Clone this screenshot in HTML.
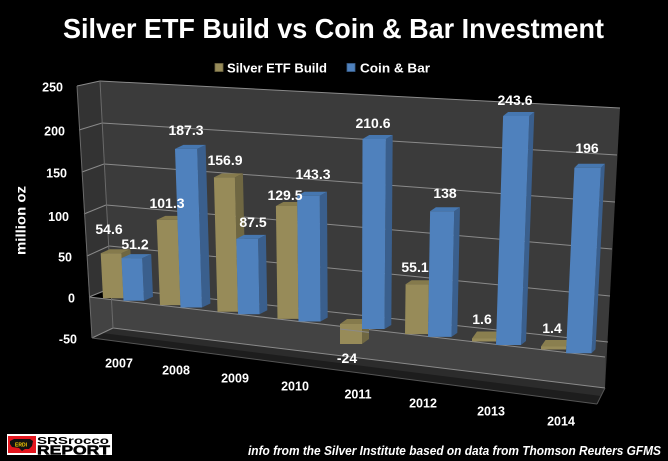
<!DOCTYPE html>
<html>
<head>
<meta charset="utf-8">
<style>
html,body{margin:0;padding:0;background:#000;}
svg{display:block;}
text{font-family:"Liberation Sans",Arial,sans-serif;fill:#fff;}
</style>
</head>
<body>
<svg width="668" height="461" viewBox="0 0 668 461" xmlns="http://www.w3.org/2000/svg">
<rect x="0" y="0" width="668" height="461" fill="#000"/>

<!-- Title -->
<text x="333.5" y="38" text-anchor="middle" font-size="28" font-weight="bold" textLength="541" lengthAdjust="spacingAndGlyphs">Silver ETF Build vs Coin &amp; Bar Investment</text>

<!-- Legend -->
<rect x="215" y="63.5" width="8" height="8" fill="#978b59" stroke="#6f6742" stroke-width="0.8"/>
<text x="227" y="72.5" font-size="13" font-weight="bold" textLength="100" lengthAdjust="spacingAndGlyphs">Silver ETF Build</text>
<rect x="347" y="63.5" width="8" height="8" fill="#4f81bd" stroke="#3a5f8d" stroke-width="0.8"/>
<text x="360" y="72.5" font-size="13" font-weight="bold" textLength="70" lengthAdjust="spacingAndGlyphs">Coin &amp; Bar</text>

<!-- Walls -->
<polygon points="100,81 620,108 605,388 113,328" fill="#3b3b3b"/>
<polygon points="77,86 100,81 112,289 89,297" fill="#333333"/>
<polygon points="89,297 605,357 605,388 113,328 92,338" fill="#434343"/>
<!-- floor -->
<polygon points="113,328 605,388 597,404 92,338" fill="#1d1d1d"/>
<polygon points="113,328 605,388 601,396 102,333" fill="#2c2c2c"/>

<!-- Gridlines -->
<g stroke="#8a8a8a" stroke-width="1" fill="none">
<line x1="77" y1="86" x2="100" y2="81"/>
<line x1="79" y1="130" x2="102" y2="123"/>
<line x1="82" y1="172" x2="104" y2="164"/>
<line x1="84" y1="214" x2="106" y2="205"/>
<line x1="87" y1="256" x2="109" y2="246"/>
<line x1="89" y1="297" x2="111" y2="288"/>
<line x1="92" y1="338" x2="113" y2="328"/>
<line x1="100" y1="81" x2="620" y2="108"/>
<line x1="102" y1="123" x2="617" y2="155"/>
<line x1="104" y1="164" x2="615" y2="202"/>
<line x1="106" y1="205" x2="612" y2="249"/>
<line x1="109" y1="246" x2="610" y2="296"/>
<line x1="111" y1="288" x2="608" y2="342"/>
<line x1="113" y1="328" x2="605" y2="388"/>
<line x1="89" y1="297" x2="605" y2="357"/>
<line x1="77" y1="86" x2="92" y2="338" stroke="#6a6a6a"/>
<line x1="100" y1="81" x2="113" y2="328" stroke="#6a6a6a"/>
<line x1="92" y1="338" x2="597" y2="404" stroke="#555"/>
<line x1="605" y1="388" x2="597" y2="404" stroke="#555"/>
</g>

<!-- Bars -->
<g>
<!-- 2007 -->
<polygon points="121.4,253.2 130.4,249.2 132.5,294.3 123.5,298.3" fill="#6f6742"/>
<polygon points="100.7,253.2 121.4,253.2 130.4,249.2 109.7,249.2" fill="#857a4c"/>
<polygon points="100.7,253.2 121.4,253.2 123.5,298.3 103,298.3" fill="#978b59"/>
<polygon points="142.2,258.1 151.2,254.1 153,296.7 144,300.7" fill="#3a5f8d"/>
<polygon points="121.5,258.1 142.2,258.1 151.2,254.1 130.5,254.1" fill="#4677b0"/>
<polygon points="121.5,258.1 142.2,258.1 144,300.7 123.5,300.7" fill="#4f81bd"/>
<!-- 2008 -->
<polygon points="177.6,219.9 186.2,215.9 189.1,301.1 180.5,305.1" fill="#6f6742"/>
<polygon points="156.7,219.9 177.6,219.9 186.2,215.9 165.3,215.9" fill="#857a4c"/>
<polygon points="156.7,219.9 177.6,219.9 180.5,305.1 160,305.1" fill="#978b59"/>
<polygon points="197.2,148.9 205.6,144.9 210.4,303.5 202,307.5" fill="#3a5f8d"/>
<polygon points="175,148.9 197.2,148.9 205.6,144.9 183.4,144.9" fill="#4677b0"/>
<polygon points="175,148.9 197.2,148.9 202,307.5 180.5,307.5" fill="#4f81bd"/>
<!-- 2009 -->
<polygon points="234.9,177.4 242.9,173.4 246,307.8 238,311.8" fill="#6f6742"/>
<polygon points="213.9,177.4 234.9,177.4 242.9,173.4 221.9,173.4" fill="#857a4c"/>
<polygon points="213.9,177.4 234.9,177.4 238,311.8 217.5,311.8" fill="#978b59"/>
<polygon points="258.1,238.9 265.9,234.9 267.3,310.3 259.5,314.3" fill="#3a5f8d"/>
<polygon points="236.3,238.9 258.1,238.9 265.9,234.9 244.1,234.9" fill="#4677b0"/>
<polygon points="236.3,238.9 258.1,238.9 259.5,314.3 238,314.3" fill="#4f81bd"/>
<!-- 2010 -->
<polygon points="297.3,206 304.7,202 305.9,314.9 298.5,318.9" fill="#6f6742"/>
<polygon points="275.9,206 297.3,206 304.7,202 283.3,202" fill="#857a4c"/>
<polygon points="275.9,206 297.3,206 298.5,318.9 277.5,318.9" fill="#978b59"/>
<polygon points="319.8,195.8 327,191.8 327.7,317.5 320.5,321.5" fill="#3a5f8d"/>
<polygon points="297.2,195.8 319.8,195.8 327,191.8 304.4,191.8" fill="#4677b0"/>
<polygon points="297.2,195.8 319.8,195.8 320.5,321.5 298.5,321.5" fill="#4f81bd"/>
<!-- 2011 -->
<polygon points="362,324 369,319 369,339 362,344" fill="#6f6742"/>
<polygon points="340,324 362,324 369,319 347,319" fill="#857a4c"/>
<polygon points="340,324 362,324 362,344 340,344" fill="#978b59"/>
<line x1="340" y1="329" x2="369" y2="332.4" stroke="#8a8a8a" stroke-width="1"/>
<polygon points="385.9,139 392.7,135 391.3,325 384.5,329" fill="#3a5f8d"/>
<polygon points="362.5,139 385.9,139 392.7,135 369.3,135" fill="#4677b0"/>
<polygon points="362.5,139 385.9,139 384.5,329 362,329" fill="#4f81bd"/>
<!-- 2012 -->
<polygon points="428.8,284.2 434.8,280.2 434,330.1 428,334.1" fill="#6f6742"/>
<polygon points="405.6,284.2 428.8,284.2 434.8,280.2 411.6,280.2" fill="#857a4c"/>
<polygon points="405.6,284.2 428.8,284.2 428,334.1 405,334.1" fill="#978b59"/>
<polygon points="454.2,211.2 460,207.2 457.3,332.9 451.5,336.9" fill="#3a5f8d"/>
<polygon points="430.1,211.2 454.2,211.2 460,207.2 435.9,207.2" fill="#4677b0"/>
<polygon points="430.1,211.2 454.2,211.2 451.5,336.9 428,336.9" fill="#4f81bd"/>
<!-- 2013 -->
<polygon points="496,338.5 501,331.5 501,334.5 496,341.5" fill="#6f6742"/>
<polygon points="472,338.5 496,338.5 501,331.5 477,331.5" fill="#8a7f4f"/>
<polygon points="472,338.5 496,338.5 496,341.5 472,341.5" fill="#978b59"/>
<polygon points="529.3,116 534.3,112 526,341 521,345" fill="#3a5f8d"/>
<polygon points="503.1,116 529.3,116 534.3,112 508.1,112" fill="#4677b0"/>
<polygon points="503.1,116 529.3,116 521,345 496,345" fill="#4f81bd"/>
<!-- 2014 -->
<polygon points="566,346.5 570.5,340 570.5,343 566,349.5" fill="#6f6742"/>
<polygon points="541,346.5 566,346.5 570.5,340 545.5,340" fill="#8a7f4f"/>
<polygon points="541,346.5 566,346.5 566,349.5 541,349.5" fill="#978b59"/>
<polygon points="600.9,167.7 604.9,163.7 595.5,349.3 591.5,353.3" fill="#3a5f8d"/>
<polygon points="574.4,167.7 600.9,167.7 604.9,163.7 578.4,163.7" fill="#4677b0"/>
<polygon points="574.4,167.7 600.9,167.7 591.5,353.3 566,353.3" fill="#4f81bd"/>
</g>

<!-- Axis tick labels -->
<g font-size="12.5" font-weight="bold" text-anchor="end">
<text x="63" y="91.5">250</text>
<text x="65" y="135.5">200</text>
<text x="67" y="177.5">150</text>
<text x="69" y="221">100</text>
<text x="72" y="261.5">50</text>
<text x="75" y="302.5">0</text>
<text x="77" y="343.5">-50</text>
</g>
<text transform="translate(25.5,220.5) rotate(-90)" text-anchor="middle" font-size="14" font-weight="bold" textLength="69" lengthAdjust="spacingAndGlyphs">million oz</text>

<!-- Data labels -->
<g font-size="14" font-weight="bold" text-anchor="middle">
<text x="109" y="234">54.6</text>
<text x="135" y="249">51.2</text>
<text x="167" y="208">101.3</text>
<text x="186" y="135">187.3</text>
<text x="225" y="165">156.9</text>
<text x="253" y="227">87.5</text>
<text x="285" y="200">129.5</text>
<text x="313" y="179">143.3</text>
<text x="373" y="128">210.6</text>
<text x="347" y="363">-24</text>
<text x="415" y="272">55.1</text>
<text x="445" y="198">138</text>
<text x="515" y="105">243.6</text>
<text x="587" y="153">196</text>
<text x="482" y="324">1.6</text>
<text x="552" y="333">1.4</text>
</g>

<!-- Category labels -->
<g font-size="12.5" font-weight="bold" text-anchor="middle">
<text x="119" y="367.5">2007</text>
<text x="176" y="374.5">2008</text>
<text x="235" y="382.5">2009</text>
<text x="295" y="390.5">2010</text>
<text x="358" y="398.5">2011</text>
<text x="423" y="407.5">2012</text>
<text x="491" y="415.5">2013</text>
<text x="561" y="425.5">2014</text>
</g>

<!-- Footer -->
<text x="248" y="455" font-size="12.5" font-weight="bold" font-style="italic" textLength="413" lengthAdjust="spacingAndGlyphs">info from the Silver Institute based on data from Thomson Reuters GFMS</text>

<!-- Logo -->
<rect x="7" y="434" width="105" height="21" fill="#fff"/>
<rect x="8" y="436" width="28" height="17" fill="#e3161e"/>
<polygon points="10,441 14,439 30,439 33,441 32,446 29,449 25,449 22,451 19,448 12,447 10,444" fill="#111"/>
<text x="21" y="446.5" font-size="5" font-weight="bold" text-anchor="middle" style="fill:#ffd200">ERDI</text>
<text x="37" y="444" font-size="10" font-weight="bold" textLength="72" lengthAdjust="spacingAndGlyphs" style="fill:#000">SRSrocco</text>
<text x="37" y="454.5" font-size="12.5" font-weight="bold" textLength="73" lengthAdjust="spacingAndGlyphs" style="fill:#000;stroke:#000;stroke-width:0.5">REPORT</text>
</svg>
</body>
</html>
